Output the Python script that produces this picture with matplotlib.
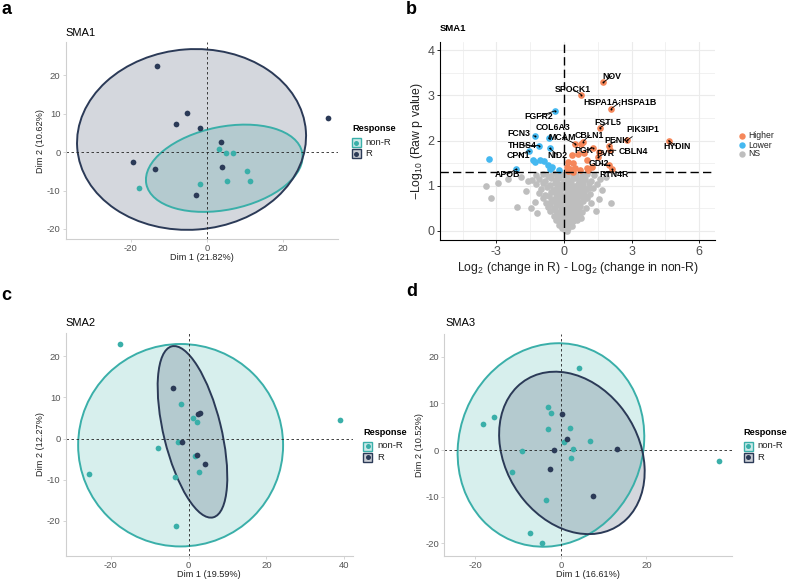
import matplotlib.pyplot as plt
from matplotlib.patches import Ellipse, Rectangle
from matplotlib.lines import Line2D
from matplotlib.colors import to_rgba

plt.rcParams['font.family'] = ['Liberation Sans', 'DejaVu Sans']
plt.rcParams['axes.unicode_minus'] = False
plt.rcParams['mathtext.fontset'] = 'custom'
plt.rcParams['mathtext.rm'] = 'Liberation Sans'

W, H = 787, 580
TEAL = '#3AAFA9'
NAVY = '#2B3A57'
ORANGE = '#F5875A'
BLUE = '#45B8F0'
GREY = '#BEBEBE'

# ---- SMA1 PCA scores (Dim1, Dim2)
sma1_nonr_x = [3.2, 5.0, 6.9, 10.6, 5.4, 11.3, -1.9, -17.7]
sma1_nonr_y = [0.7, -0.3, -0.3, -4.8, -7.4, -7.5, -8.2, -9.3]
sma1_r_x = [-13.0, -5.2, -8.2, -1.8, 31.8, 3.7, -19.3, -13.7, 3.9, -2.7]
sma1_r_y = [22.3, 10.3, 7.4, 6.3, 8.8, 2.7, -2.6, -4.3, -3.9, -11.1]
# ellipses: centre x, centre y, width, height, angle
sma1_ell_nonr = [4.6, -4.2, 41.8, 21.6, 11.4]
sma1_ell_r = [-4.0, 3.3, 60.3, 47.0, 4.2]

# ---- SMA2
sma2_nonr_x = [-17.65, 38.9, -2.06, 1.03, 2.06, -7.8, -2.66, -25.7, -3.5, 1.63, 2.66, -3.34]
sma2_nonr_y = [23.0, 4.6, 8.5, 5.07, 3.95, -2.25, -0.72, -8.7, -9.26, -4.27, -8.05, -21.3]
sma2_r_x = [-4.1, 2.4, 2.83, -1.7, 2.06, 4.1]
sma2_r_y = [12.2, 5.9, 6.3, -0.9, -3.95, -6.1]
sma2_ell_nonr = [-2.05, -1.6, 52.7, 49.2, 0.0]
sma2_ell_r = [1.0, 1.65, 42.9, 14.8, 104.5]

# ---- SMA3
sma3_nonr_x = [4.36, -2.88, -2.26, -15.7, -18.2, -3.04, 2.26, 0.86, 6.77, 2.96,
               -9.18, 2.49, -11.4, -3.35, -7.3, -4.5, 37.0]
sma3_nonr_y = [17.6, 9.3, 7.96, 7.0, 5.7, 4.55, 4.76, 1.78, 1.92, 0.21,
               -0.14, -1.7, -4.76, -10.8, -17.7, -20.0, -2.35]
sma3_r_x = [0.23, 1.48, -1.63, 13.15, -2.49, 7.63]
sma3_r_y = [7.8, 2.49, 0.0, 0.28, -4.05, -9.74]
sma3_ell_nonr = [-2.3, 1.1, 45.4, 41.8, 45.0]
sma3_ell_r = [2.6, -0.6, 38.2, 30.2, -47.9]

# ---- SMA1 volcano: log2 fold-change difference, -log10 p
higher_x = [1.75, 0.76, 2.10, 1.58, 2.81, 4.64, 1.98, 2.05, 0.85, 0.50, 1.27, 1.52, 2.0, 2.13,
            0.74, 0.34, 0.64, 0.41, 0.19, 1.0, 1.23, 1.0, 0.27, 0.41, 0.71, 1.08, 0.12, 0.2,
            0.5, 0.9, 1.55]
higher_y = [3.29, 3.02, 2.71, 2.28, 2.01, 2.0, 1.89, 1.79, 1.98, 1.93, 1.84, 1.64, 1.45, 1.37,
            1.93, 1.68, 1.70, 1.50, 1.53, 1.57, 1.42, 1.39, 1.37, 1.31, 1.36, 1.35, 1.42, 1.33,
            1.4, 1.72, 1.75]
lower_x = [-0.40, -1.28, -0.68, -1.10, -0.64, -1.57, -2.12, -3.32, -1.36, -1.30, -1.08,
           -0.88, -0.70, -0.55, -0.62, -0.22]
lower_y = [2.66, 2.10, 2.05, 1.89, 1.83, 1.78, 1.37, 1.59, 1.57, 1.52, 1.57,
           1.55, 1.47, 1.42, 1.37, 1.35]
ns_pts = [
    (-1.25, 1.24), (-0.95, 1.27), (-0.72, 1.22), (-0.48, 1.28), (-0.3, 1.21), (-0.12, 1.26),
    (0.06, 1.23), (0.22, 1.28), (0.38, 1.2), (0.55, 1.25), (0.78, 1.22), (1.02, 1.27), (1.32, 1.24),
    (-1.42, 1.12), (-1.12, 1.16), (-0.82, 1.1), (-0.58, 1.17), (-0.36, 1.13), (-0.2, 1.18),
    (-0.02, 1.11), (0.14, 1.15), (0.3, 1.1), (0.48, 1.17), (0.68, 1.12), (0.92, 1.16), (1.18, 1.1),
    (-1.22, 1.03), (-0.95, 1.07), (-0.62, 1.01), (-0.42, 1.06), (-0.26, 1.0), (-0.08, 1.05),
    (0.1, 1.02), (0.26, 1.08), (0.44, 1.0), (0.62, 1.05), (0.86, 1.02), (1.12, 1.07), (1.48, 1.04),
    (-1.02, 0.93), (-0.76, 0.97), (-0.5, 0.9), (-0.32, 0.96), (-0.14, 0.92), (0.04, 0.98),
    (0.2, 0.91), (0.36, 0.95), (0.54, 0.9), (0.74, 0.97), (0.98, 0.92), (1.3, 0.95),
    (-1.1, 0.84), (-0.82, 0.8), (-0.56, 0.87), (-0.36, 0.82), (-0.2, 0.86), (-0.04, 0.8),
    (0.12, 0.85), (0.28, 0.81), (0.46, 0.87), (0.66, 0.83), (0.9, 0.86), (1.14, 0.81),
    (-0.92, 0.74), (-0.66, 0.78), (-0.44, 0.71), (-0.26, 0.76), (-0.1, 0.72), (0.06, 0.77),
    (0.2, 0.7), (0.36, 0.75), (0.56, 0.72), (0.8, 0.77), (1.04, 0.73),
    (-0.8, 0.63), (-0.56, 0.67), (-0.36, 0.61), (-0.2, 0.66), (-0.04, 0.62), (0.1, 0.68),
    (0.26, 0.6), (0.42, 0.65), (0.6, 0.61), (0.86, 0.66), (1.2, 0.62),
    (-0.7, 0.54), (-0.46, 0.5), (-0.3, 0.57), (-0.14, 0.52), (0.0, 0.56), (0.16, 0.51),
    (0.3, 0.58), (0.5, 0.53), (0.7, 0.56), (0.96, 0.51),
    (-0.6, 0.44), (-0.4, 0.47), (-0.24, 0.41), (-0.1, 0.46), (0.06, 0.42), (0.2, 0.48),
    (0.36, 0.43), (0.56, 0.46), (0.8, 0.41),
    (-0.46, 0.33), (-0.3, 0.37), (-0.16, 0.31), (0.0, 0.36), (0.14, 0.32), (0.3, 0.38),
    (0.46, 0.33), (0.66, 0.36),
    (-0.34, 0.24), (-0.2, 0.21), (-0.06, 0.27), (0.1, 0.22), (0.24, 0.26), (0.4, 0.21), (0.56, 0.25),
    (-0.24, 0.14), (-0.1, 0.17), (0.04, 0.11), (0.18, 0.16), (0.34, 0.12),
    (-0.08, 0.06), (0.06, 0.03), (0.2, 0.07), (0.12, 0.0),
    (0.15, 0.9), (0.35, 1.0), (0.45, 0.7), (0.05, 0.6), (0.25, 0.45), (0.4, 0.55),
    (-0.15, 0.75), (0.5, 1.2), (0.65, 0.95), (0.1, 1.2), (-0.05, 0.38), (0.22, 0.33),
    (0.32, 0.18), (0.0, 0.2), (0.55, 0.35), (0.7, 0.65), (0.85, 1.1), (-0.25, 1.05),
    (-0.45, 0.9), (0.95, 0.78), (1.1, 0.95), (-0.6, 0.6), (0.62, 0.48), (0.75, 0.28),
    (0.38, 0.28), (-0.15, 0.45), (0.18, 0.62), (0.3, 0.85), (0.5, 0.82), (0.15, 1.05),
    (-3.47, 1.0), (-2.92, 1.07), (-3.24, 0.72), (-2.1, 0.52), (-1.7, 0.88), (-1.6, 1.1),
    (-1.9, 1.2), (-1.45, 0.5), (-1.3, 0.65), (1.56, 0.71), (2.07, 0.63), (1.7, 0.9),
    (1.6, 1.15), (1.85, 1.2), (-2.5, 1.15), (1.4, 0.45), (-1.2, 0.4),
]
ns_x = [p[0] for p in ns_pts]
ns_y = [p[1] for p in ns_pts]

gene_names = ['NOV', 'SPOCK1', 'HSPA1A;HSPA1B', 'FSTL5', 'PIK3IP1', 'HYDIN', 'PENK', 'CBLN4',
              'CBLN1', 'MCAM', 'PGK', 'PVR', 'GDI2', 'RTN4R',
              'FGFR2', 'FCN3', 'COL6A3', 'THBS4', 'NID2', 'CPN1', 'APOB']
gene_x = higher_x[:14] + lower_x[:7]
gene_y = higher_y[:14] + lower_y[:7]
# label placement (layout)
label_x = [2.12, 0.39, 2.49, 1.94, 3.48, 5.0, 2.33, 3.08, 1.14, -0.07, 0.89, 1.84, 1.57, 2.24,
           -1.14, -1.99, -0.5, -1.84, -0.27, -2.03, -2.52]
label_y = [3.43, 3.14, 2.85, 2.40, 2.25, 1.87, 2.01, 1.77, 2.12, 2.07, 1.78, 1.72, 1.50, 1.26,
           2.53, 2.15, 2.29, 1.90, 1.68, 1.66, 1.25]


def fig_axes(l, t, r, b):
    return fig.add_axes([l / W, 1 - b / H, (r - l) / W, (b - t) / H])


def fx(x):
    return x / W


def fy(y):
    return 1 - y / H


def pca_panel(ax, nx, ny, rx, ry, ell_n, ell_r, xlim, ylim, xticks, xlabel, ylabel):
    for ell, col in ((ell_n, TEAL), (ell_r, NAVY)):
        cx, cy, w, h, ang = ell
        ax.add_patch(Ellipse((cx, cy), w, h, angle=ang, facecolor=col, alpha=0.2,
                             edgecolor='none', zorder=1))
        ax.add_patch(Ellipse((cx, cy), w, h, angle=ang, facecolor='none',
                             edgecolor=col, lw=1.4, zorder=2))
    ax.axhline(0, color='#222222', lw=0.6, ls=(0, (3, 3)), zorder=2.5)
    ax.axvline(0, color='#222222', lw=0.6, ls=(0, (3, 3)), zorder=2.5)
    ax.scatter(nx, ny, s=17, color=TEAL, zorder=3, linewidths=0)
    ax.scatter(rx, ry, s=17, color=NAVY, zorder=3.5, linewidths=0)
    ax.set_xlim(*xlim)
    ax.set_ylim(*ylim)
    ax.set_xticks(xticks)
    ax.set_yticks([-20, -10, 0, 10, 20])
    for s in ('top', 'right'):
        ax.spines[s].set_visible(False)
    for s in ('left', 'bottom'):
        ax.spines[s].set_color('#CFCFCF')
        ax.spines[s].set_linewidth(0.8)
    ax.tick_params(colors='#CFCFCF', labelcolor='#555555', labelsize=6.8, length=2.5,
                   width=0.6, pad=1.2)
    ax.set_xlabel(xlabel, fontsize=6.6, color='#222222', labelpad=0)
    ax.set_ylabel(ylabel, fontsize=6.6, color='#222222', labelpad=1)
    ax.set_facecolor('white')


def pca_legend(title_x, title_y, key_x, key_y0, text_x):
    fig.text(fx(title_x), fy(title_y), 'Response', fontsize=6.6, weight='bold', va='center')
    for i, (lab, col) in enumerate((('non-R', TEAL), ('R', NAVY))):
        ky = key_y0 + i * 11
        fig.add_artist(Rectangle((fx(key_x - 4.5), fy(ky + 4.5)), 9 / W, 9 / H,
                                 transform=fig.transFigure, facecolor=to_rgba(col, 0.25),
                                 edgecolor=col, lw=1.0))
        fig.add_artist(Line2D([fx(key_x)], [fy(ky)], marker='o', ms=3.6, color=col,
                              mec='none', transform=fig.transFigure))
        fig.text(fx(text_x), fy(ky), lab, fontsize=6.8, va='center', color='#222222')


fig = plt.figure(figsize=(W / 100, H / 100), dpi=100)

# panel a
ax_a = fig_axes(65.7, 42.3, 338.3, 239.3)
pca_panel(ax_a, sma1_nonr_x, sma1_nonr_y, sma1_r_x, sma1_r_y, sma1_ell_nonr, sma1_ell_r,
          (-37.1, 34.6), (-22.7, 28.6), [-20, 0, 20], 'Dim 1 (21.82%)', 'Dim 2 (10.62%)')
fig.text(fx(65), fy(33), 'SMA1', fontsize=8, va='center')
pca_legend(352, 128.3, 356, 142.7, 365.7)

# panel c
ax_c = fig_axes(65.7, 333.3, 352.7, 555.5)
pca_panel(ax_c, sma2_nonr_x, sma2_nonr_y, sma2_r_x, sma2_r_y, sma2_ell_nonr, sma2_ell_r,
          (-31.6, 42.2), (-28.4, 25.6), [-20, 0, 20, 40], 'Dim 1 (19.59%)', 'Dim 2 (12.27%)')
fig.text(fx(65), fy(323.3), 'SMA2', fontsize=8, va='center')
pca_legend(363, 432.7, 367.5, 446, 377.5)

# panel d
ax_d = fig_axes(444, 334, 732.3, 555.5)
pca_panel(ax_d, sma3_nonr_x, sma3_nonr_y, sma3_r_x, sma3_r_y, sma3_ell_nonr, sma3_ell_r,
          (-27.3, 40.1), (-22.6, 24.9), [-20, 0, 20], 'Dim 1 (16.61%)', 'Dim 2 (10.52%)')
fig.text(fx(445), fy(323.3), 'SMA3', fontsize=8, va='center')
pca_legend(743, 432.7, 748, 446, 757)

# panel b: volcano
ax_b = fig_axes(440, 41.7, 715, 240)
ax_b.set_xlim(-5.5, 6.7)
ax_b.set_ylim(-0.2, 4.19)
ax_b.set_xticks([-3, 0, 3, 6])
ax_b.set_yticks([0, 1, 2, 3, 4])
ax_b.set_xticks([-4.5, -1.5, 1.5, 4.5], minor=True)
ax_b.set_yticks([0.5, 1.5, 2.5, 3.5], minor=True)
ax_b.grid(which='major', color='#EBEBEB', lw=0.8)
ax_b.grid(which='minor', color='#EBEBEB', lw=0.5)
ax_b.set_axisbelow(True)
for s in ('top', 'right'):
    ax_b.spines[s].set_visible(False)
for s in ('left', 'bottom'):
    ax_b.spines[s].set_color('black')
    ax_b.spines[s].set_linewidth(0.8)
ax_b.tick_params(which='major', colors='black', labelcolor='#4D4D4D', labelsize=9,
                 length=2.5, width=0.6, pad=1.5)
ax_b.tick_params(which='minor', length=0)
ax_b.scatter(ns_x, ns_y, s=23, color=GREY, linewidths=0, zorder=2)
ax_b.scatter(lower_x, lower_y, s=23, color=BLUE, linewidths=0, zorder=3)
ax_b.scatter(higher_x, higher_y, s=23, color=ORANGE, linewidths=0, zorder=3)
ax_b.axvline(0, color='black', lw=1.0, ls=(0, (6, 3)), zorder=4)
ax_b.axhline(1.301, color='black', lw=1.0, ls=(0, (6, 3)), zorder=4)
ax_b.scatter(gene_x, gene_y, s=2, color='black', linewidths=0, zorder=5)
for name, gx, gy, tx, ty in zip(gene_names, gene_x, gene_y, label_x, label_y):
    ax_b.annotate(name, xy=(gx, gy), xytext=(tx, ty), ha='center', va='center',
                  fontsize=6.3, weight='bold', zorder=6,
                  arrowprops=dict(arrowstyle='-', color='black', lw=0.6, shrinkA=0, shrinkB=0))
ax_b.set_xlabel('Log$_2$ (change in R) - Log$_2$ (change in non-R)', fontsize=8.8,
                color='#222222', labelpad=2)
ax_b.set_ylabel('\u2212Log$_{10}$ (Raw p value)', fontsize=8.8, color='#222222', labelpad=2)
fig.text(fx(440), fy(28.3), 'SMA1', fontsize=6.8, weight='bold', va='center')

for i, (lab, col) in enumerate((('Higher', ORANGE), ('Lower', BLUE), ('NS', GREY))):
    yy = 136 + i * 9
    fig.add_artist(Line2D([fx(742)], [fy(yy)], marker='o', ms=4.6, color=col, mec='none',
                          transform=fig.transFigure))
    fig.text(fx(748), fy(yy), lab, fontsize=6.2, va='center', color='#222222')

# panel letters
for lab, x, y in (('a', 1, 10), ('b', 406, 9), ('c', 1, 296), ('d', 406, 292)):
    fig.text(fx(x), fy(y), lab, fontsize=13, weight='bold', va='center')

fig.savefig('out.png', dpi=100)
